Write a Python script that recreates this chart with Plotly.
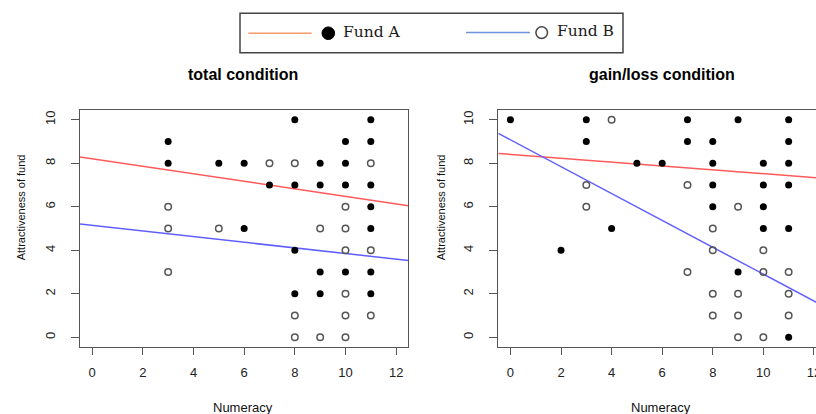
import plotly.graph_objects as go

# ---- data ----
total_A_x = [8, 11, 3, 10, 11, 3, 5, 6, 9, 10, 7, 8, 9, 10, 11, 11, 6, 11, 8, 9, 10, 11, 8, 9, 11]
total_A_y = [10, 10, 9, 9, 9, 8, 8, 8, 8, 8, 7, 7, 7, 7, 7, 6, 5, 5, 4, 3, 3, 3, 2, 2, 2]
total_B_x = [7, 8, 11, 3, 10, 3, 5, 9, 10, 10, 11, 3, 10, 8, 10, 11, 8, 9, 10]
total_B_y = [8, 8, 8, 6, 6, 5, 5, 5, 5, 4, 4, 3, 2, 1, 1, 1, 0, 0, 0]

gain_A_x = [0, 3, 7, 9, 11, 3, 7, 8, 11, 5, 6, 8, 10, 11, 8, 10, 11, 8, 10, 4, 10, 11, 2, 9, 11]
gain_A_y = [10, 10, 10, 10, 10, 9, 9, 9, 9, 8, 8, 8, 8, 8, 7, 7, 7, 6, 6, 5, 5, 5, 4, 3, 0]
gain_B_x = [4, 3, 7, 3, 9, 8, 8, 10, 7, 10, 11, 8, 9, 11, 8, 9, 11, 9, 10]
gain_B_y = [10, 7, 7, 6, 6, 5, 4, 4, 3, 3, 3, 2, 2, 2, 1, 1, 1, 0, 0]

# fitted regression lines (intercept, slope)
total_A_fit = (8.21, -0.173)
total_B_fit = (5.14, -0.129)
gain_A_fit = (8.41, -0.089)
gain_B_fit = (9.08, -0.618)

x_ticks = [0, 2, 4, 6, 8, 10, 12]
y_ticks = [0, 2, 4, 6, 8, 10]
titles = ["total condition", "gain/loss condition"]
x_title = "Numeracy"
y_title = "Attractiveness of fund"
legend_labels = ["Fund A", "Fund B"]

# ---- layout geometry (pixels) ----
W, H = 816, 414
L, R, T, B = 80, 0, 110, 67.3
PW = W - L - R
PH = H - T - B
XMIN, XMAX = -0.48, 12.48
UNIT = (408.3 - 80) / (XMAX - XMIN)
right_left_px = 498.3
XMAX2 = XMIN + (W - right_left_px) / UNIT + 0.02


def px2x(px):
    return (px - L) / PW


def py2y(py):
    return (H - B - py) / PH


RED = "#ff5a5a"
BLUE = "#5f5fff"
AXC = "#555555"
TICKFONT = dict(family="Liberation Sans, Arial, sans-serif", size=13, color="#222222")

fig = go.Figure()


def add_panel(ax, xa, ya, bx, by, fa, fb):
    xs_line = [XMIN, XMAX]
    fig.add_trace(go.Scatter(x=xs_line, y=[fa[0] + fa[1] * v for v in xs_line], mode="lines",
                             line=dict(color=RED, width=1.5), xaxis="x" + ax, yaxis="y" + ax,
                             showlegend=False, hoverinfo="skip"))
    fig.add_trace(go.Scatter(x=xs_line, y=[fb[0] + fb[1] * v for v in xs_line], mode="lines",
                             line=dict(color=BLUE, width=1.5), xaxis="x" + ax, yaxis="y" + ax,
                             showlegend=False, hoverinfo="skip"))
    fig.add_trace(go.Scatter(x=xa, y=ya, mode="markers",
                             marker=dict(symbol="circle", size=7, color="black"),
                             xaxis="x" + ax, yaxis="y" + ax, showlegend=False, cliponaxis=False))
    fig.add_trace(go.Scatter(x=bx, y=by, mode="markers",
                             marker=dict(symbol="circle-open", size=6.5, color="#555555",
                                         line=dict(width=1.5, color="#555555")),
                             xaxis="x" + ax, yaxis="y" + ax, showlegend=False, cliponaxis=False))


add_panel("", total_A_x, total_A_y, total_B_x, total_B_y, total_A_fit, total_B_fit)
add_panel("2", gain_A_x, gain_A_y, gain_B_x, gain_B_y, gain_A_fit, gain_B_fit)

common_x = dict(tickmode="array", tickvals=x_ticks, ticktext=[str(v) for v in x_ticks],
                ticks="outside", ticklen=7, tickcolor=AXC, tickwidth=1,
                showline=True, linecolor=AXC, linewidth=1.2, mirror=True,
                showgrid=False, zeroline=False, tickfont=TICKFONT, automargin=False,
                ticklabelstandoff=6, ticklabeloverflow="allow")
common_y = dict(tickmode="array", tickvals=y_ticks, ticktext=[str(v) for v in y_ticks],
                ticks="outside", ticklen=8, tickcolor=AXC, tickwidth=1,
                showline=True, linecolor=AXC, linewidth=1.2,
                showgrid=False, zeroline=False, tickfont=TICKFONT, automargin=False,
                tickangle=-90, range=[-0.45, 10.45], ticklabelstandoff=11)

fig.update_layout(
    width=W, height=H,
    margin=dict(l=L, r=R, t=T, b=B),
    plot_bgcolor="white", paper_bgcolor="white",
    xaxis=dict(domain=[0, px2x(408.3)], range=[XMIN, XMAX], **common_x),
    yaxis=dict(anchor="x", mirror=True, **common_y),
    xaxis2=dict(domain=[px2x(right_left_px), 1], range=[XMIN, XMAX2], anchor="y2", **common_x),
    yaxis2=dict(anchor="x2", mirror=False, **common_y),
)

ann = []
for cx, t in zip([242.7, 662.0], titles):
    ann.append(dict(x=px2x(cx), y=py2y(75), xref="paper", yref="paper", text="<b>" + t + "</b>",
                    showarrow=False, xanchor="center", yanchor="middle",
                    font=dict(family="Liberation Sans, Arial, sans-serif", size=16, color="black")))
for cx in [243.0, 661.0]:
    ann.append(dict(x=px2x(cx), y=py2y(407), xref="paper", yref="paper", text=x_title,
                    showarrow=False, xanchor="center", yanchor="middle",
                    font=dict(family="Liberation Sans, Arial, sans-serif", size=13, color="#111111")))
for cx in [20.7, 440.7]:
    ann.append(dict(x=px2x(cx), y=py2y(207.5), xref="paper", yref="paper", text=y_title,
                    showarrow=False, xanchor="center", yanchor="middle", textangle=-90,
                    font=dict(family="Liberation Sans, Arial, sans-serif", size=11, color="#111111")))

# legend (drawn as decoration)
LEGFONT = dict(family="DejaVu Serif, Liberation Serif, serif", size=15.5, color="#1a1a1a")
ann.append(dict(x=px2x(340.5), y=py2y(32), xref="paper", yref="paper", text=legend_labels[0],
                showarrow=False, xanchor="left", yanchor="middle", font=LEGFONT))
ann.append(dict(x=px2x(555), y=py2y(31), xref="paper", yref="paper", text=legend_labels[1],
                showarrow=False, xanchor="left", yanchor="middle", font=LEGFONT))
fig.update_layout(annotations=ann)

shapes = [
    dict(type="rect", xref="paper", yref="paper", x0=px2x(240), x1=px2x(623), y0=py2y(52.7), y1=py2y(13.3),
         line=dict(color="#444444", width=1.5), fillcolor="rgba(0,0,0,0)"),
    dict(type="line", xref="paper", yref="paper", x0=px2x(248.3), x1=px2x(311.7), y0=py2y(33.3), y1=py2y(33.3),
         line=dict(color="#f59a6b", width=1.5)),
    dict(type="line", xref="paper", yref="paper", x0=px2x(466), x1=px2x(530), y0=py2y(32.7), y1=py2y(32.7),
         line=dict(color="#6f94df", width=1.5)),
    dict(type="circle", xref="paper", yref="paper", x0=px2x(328.3 - 6.3), x1=px2x(328.3 + 6.3),
         y0=py2y(33.3 + 6.3), y1=py2y(33.3 - 6.3), line=dict(color="black", width=1), fillcolor="black"),
    dict(type="circle", xref="paper", yref="paper", x0=px2x(541.7 - 5.8), x1=px2x(541.7 + 5.8),
         y0=py2y(32.7 + 5.8), y1=py2y(32.7 - 5.8), line=dict(color="#444444", width=1.5), fillcolor="white"),
]
fig.update_layout(shapes=shapes)

fig.write_html("out.html", config={"displayModeBar": False},
               post_script="document.body.style.margin='0';document.body.style.overflow='hidden';")
